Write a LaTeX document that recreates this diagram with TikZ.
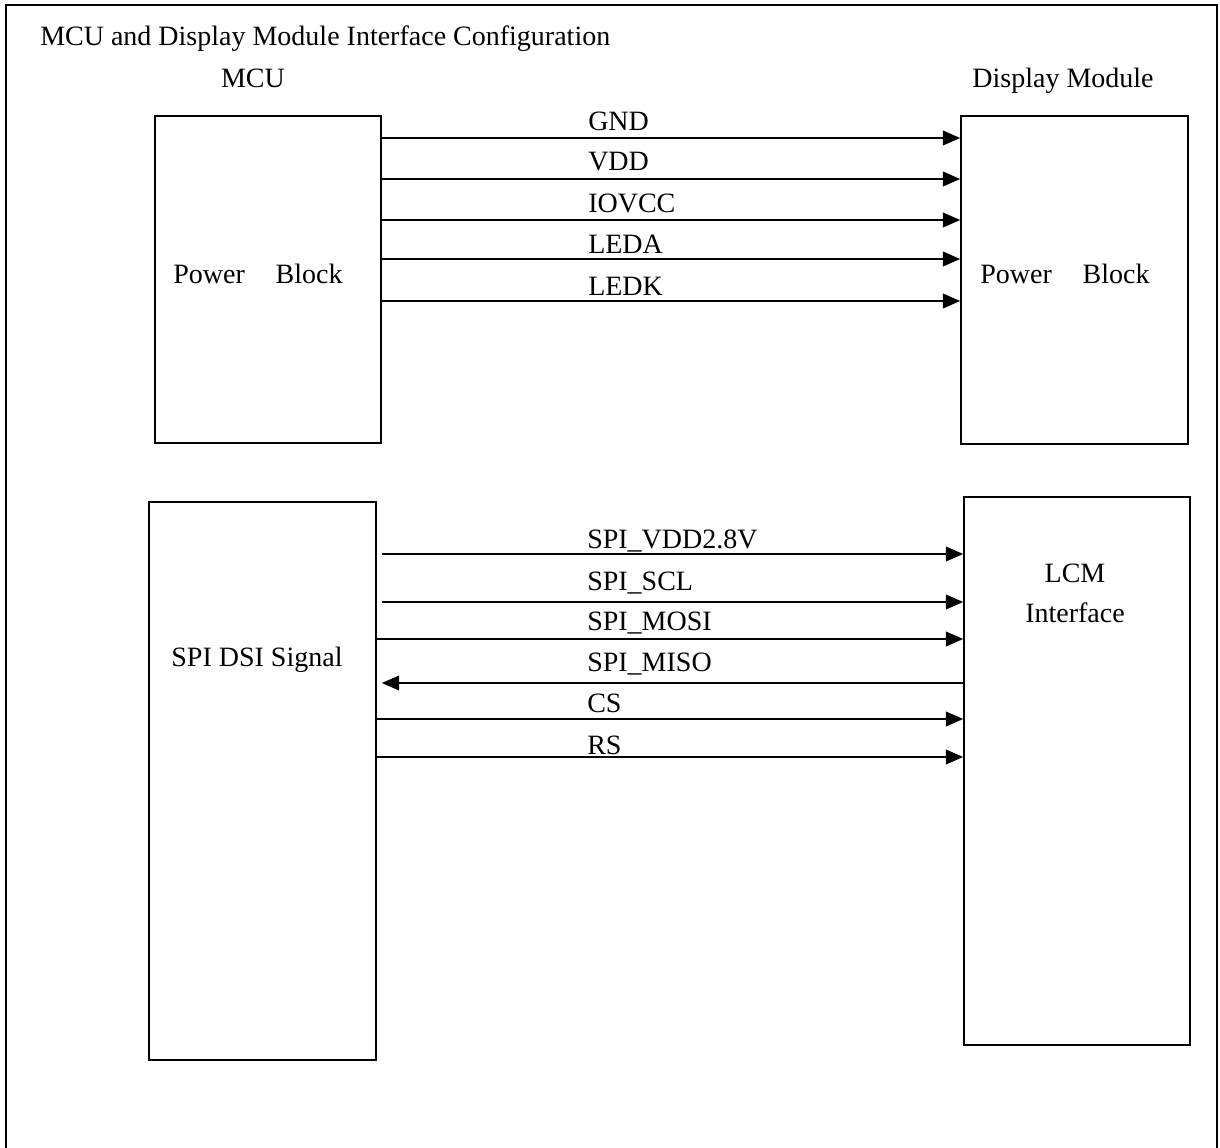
\documentclass[tikz,border=0pt]{standalone}
\usepackage{fontspec}
\setmainfont{Liberation Serif}
\usetikzlibrary{arrows.meta}
\begin{document}
\begin{tikzpicture}[x=0.75pt,y=-0.75pt,
  blk/.style={draw,line width=1.2pt,minimum width=#1,inner sep=0pt},
  lbl/.style={font=\fontsize{21}{23}\selectfont,inner sep=0pt},
  sig/.style={font=\fontsize{21}{23}\selectfont,inner sep=0pt,anchor=base west},
  arr/.style={line width=1.3pt,-{Triangle[length=13pt,width=11pt]}}]
\useasboundingbox (0,0) rectangle (1220,1148);
\draw[line width=1.8pt] (6,1148) -- (6,5) -- (1217,5) -- (1217,1148);
\node[lbl,anchor=base west] (title) at (40,46) {MCU and Display Module Interface Configuration};
\node[lbl,anchor=base] (mcu) at (253,88) {MCU};
\node[lbl,anchor=base] (dm) at (1063,88) {Display Module};
% boxes
\node[blk=226*0.75pt,minimum height=327*0.75pt] (mp) at (268,279.5) {};
\node[blk=227*0.75pt,minimum height=328*0.75pt] (dp) at (1074.5,280) {};
\node[blk=227*0.75pt,minimum height=558*0.75pt] (sp) at (262.5,781) {};
\node[blk=226*0.75pt,minimum height=548*0.75pt] (lp) at (1077,771) {};
\node[lbl] (mpt) at (258,274) {Power\hspace{1.1em}Block};
\node[lbl] (dpt) at (1065,274) {Power\hspace{1.1em}Block};
\node[lbl] (spt) at (257,660) {SPI DSI Signal};
\node[lbl] (lpt1) at (1075,573) {LCM};
\node[lbl] (lpt2) at (1075,613) {Interface};
% power lines
\foreach \y/\t/\b [count=\i] in {138/GND/131,179/VDD/171,220/IOVCC/213,259/LEDA/253,301/LEDK/296}{
  \coordinate (p\i) at (0,\y);
  \draw[arr] (mp.east |- p\i) -- (dp.west |- p\i);
  \node[sig] (pl\i) at (588,\b) {\t};
}
% spi lines
\foreach \y/\t/\b/\s [count=\i] in {554/SPI\_VDD2.8V/548/5,602/SPI\_SCL/590/5,639/SPI\_MOSI/630/0,719/CS/712/0,757/RS/754/0}{
  \coordinate (s\i) at (0,\y);
  \draw[arr] ([xshift=\s*0.75pt]sp.east |- s\i) -- (lp.west |- s\i);
  \node[sig] (sl\i) at (587,\b) {\t};
}
\coordinate (miso) at (0,683);
\draw[arr] (lp.west |- miso) -- ([xshift=5*0.75pt]sp.east |- miso);
\node[sig] (mlab) at (587,671) {SPI\_MISO};
\end{tikzpicture}
\end{document}
